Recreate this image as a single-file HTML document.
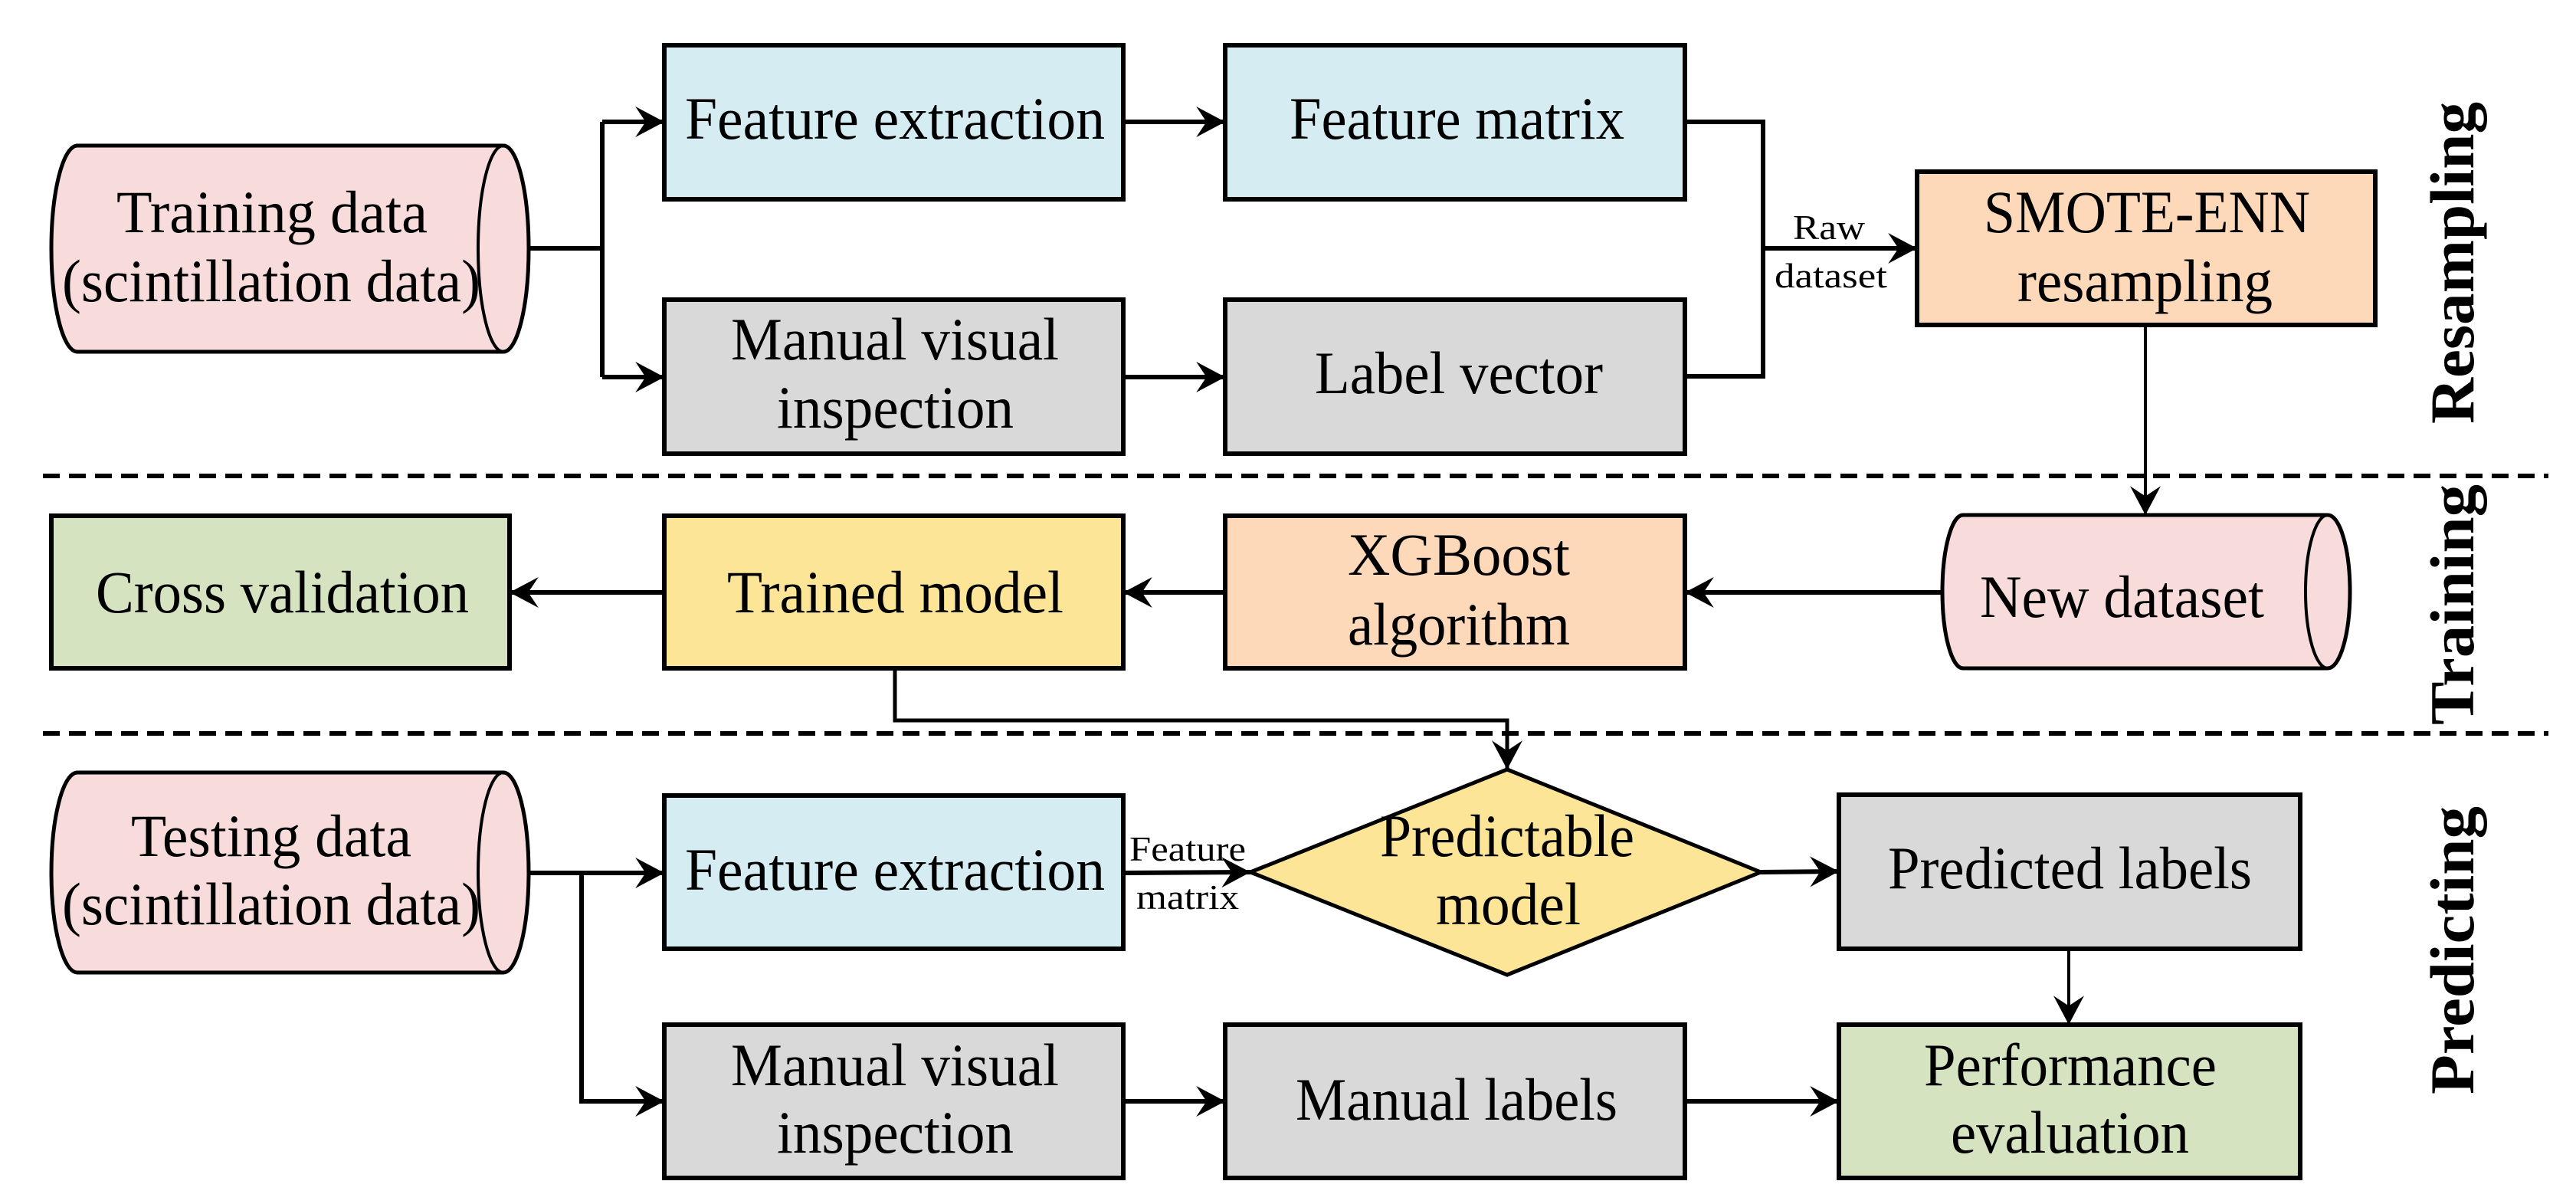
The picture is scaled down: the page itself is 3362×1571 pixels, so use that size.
<!DOCTYPE html>
<html><head><meta charset="utf-8"><style>
html,body{margin:0;padding:0;background:#fff}
svg{display:block}
text{font-family:"Liberation Serif",serif;fill:#000}
.m{font-size:78px}
.s{font-size:46px}
.b{font-size:82px;font-weight:bold}
</style></head><body>
<svg width="3362" height="1571" viewBox="0 0 3362 1571" xmlns="http://www.w3.org/2000/svg">
<defs>
<marker id="ah" markerUnits="userSpaceOnUse" markerWidth="40" markerHeight="40" viewBox="0 0 34 36" refX="34" refY="18" orient="auto">
<path d="M0,0 L34,18 L0,36 L12,18 Z" fill="#000"/>
</marker>
</defs>
<g stroke="#000" stroke-width="6" fill="none">
<rect x="867" y="59" width="599" height="201" fill="#d5edf2"/>
<rect x="1599" y="59" width="600" height="201" fill="#d5edf2"/>
<rect x="867" y="391" width="599" height="201" fill="#d9d9d9"/>
<rect x="1599" y="391" width="600" height="201" fill="#d9d9d9"/>
<rect x="2502" y="224" width="598" height="200" fill="#fdd8b9"/>
<rect x="67" y="673" width="598" height="199" fill="#d5e3c0"/>
<rect x="867" y="673" width="599" height="199" fill="#fde597"/>
<rect x="1599" y="673" width="600" height="199" fill="#fdd8b9"/>
<rect x="867" y="1038" width="599" height="200" fill="#d5edf2"/>
<rect x="867" y="1337" width="599" height="200" fill="#d9d9d9"/>
<rect x="1599" y="1337" width="600" height="200" fill="#d9d9d9"/>
<rect x="2400" y="1037" width="602" height="201" fill="#d9d9d9"/>
<rect x="2400" y="1337" width="602" height="200" fill="#d5e3c0"/>
<path d="M1632,1138 L1967,1004 L2298,1138 L1967,1272 Z" fill="#fde597" stroke-width="5"/>
<path d="M101,190 L657,190 A33,134.5 0 0 1 657,459 L101,459 A34,134.5 0 0 1 101,190 Z" fill="#f8dcdb" stroke-width="5"/>
<path d="M657,190 A33,134.5 0 0 0 657,459" stroke-width="4"/>
<path d="M101,1008 L657,1008 A33,130.5 0 0 1 657,1269 L101,1269 A34,130.5 0 0 1 101,1008 Z" fill="#f8dcdb" stroke-width="5"/>
<path d="M657,1008 A33,130.5 0 0 0 657,1269" stroke-width="4"/>
<path d="M2562,672 L3038,672 A29,100 0 0 1 3038,872 L2562,872 A27,100 0 0 1 2562,672 Z" fill="#f8dcdb" stroke-width="5"/>
<path d="M3038,672 A29,100 0 0 0 3038,872" stroke-width="4"/>
<path d="M690,324 L786,324 M786,159 L786,492"/>
<path d="M786,159 L867,159" marker-end="url(#ah)"/>
<path d="M786,492 L867,492" marker-end="url(#ah)"/>
<path d="M1466,159 L1599,159" marker-end="url(#ah)"/>
<path d="M1466,492 L1599,492" marker-end="url(#ah)"/>
<path d="M2199,159 L2301,159 L2301,491 L2199,491"/>
<path d="M2301,324 L2502,324" marker-end="url(#ah)"/>
<path d="M2800,424 L2800,672" stroke-width="4" marker-end="url(#ah)"/>
<path d="M2535,773 L2199,773" marker-end="url(#ah)"/>
<path d="M1599,773 L1466,773" marker-end="url(#ah)"/>
<path d="M867,773 L665,773" marker-end="url(#ah)"/>
<path d="M1168,872 L1168,940 L1967,940 L1967,1004" stroke-width="5" marker-end="url(#ah)"/>
<path d="M690,1139 L867,1139" marker-end="url(#ah)"/>
<path d="M759,1139 L759,1437 L867,1437" marker-end="url(#ah)"/>
<path d="M1466,1139 L1632,1138" marker-end="url(#ah)"/>
<path d="M2298,1138 L2400,1137" marker-end="url(#ah)"/>
<path d="M2700,1238 L2700,1337" stroke-width="4" marker-end="url(#ah)"/>
<path d="M1466,1437 L1599,1437" marker-end="url(#ah)"/>
<path d="M2199,1437 L2400,1437" marker-end="url(#ah)"/>
<path d="M56,621 L3326,621 M56,957 L3326,957" stroke-dasharray="22,12" stroke-width="6"/>
</g>
<g class="m">
<text x="152" y="303" textLength="406" lengthAdjust="spacingAndGlyphs">Training data</text>
<text x="81" y="393" textLength="546" lengthAdjust="spacingAndGlyphs">(scintillation data)</text>
<text x="894" y="181" textLength="548" lengthAdjust="spacingAndGlyphs">Feature extraction</text>
<text x="1683" y="181" textLength="437" lengthAdjust="spacingAndGlyphs">Feature matrix</text>
<text x="954" y="469" textLength="428" lengthAdjust="spacingAndGlyphs">Manual visual</text>
<text x="1014" y="558" textLength="309" lengthAdjust="spacingAndGlyphs">inspection</text>
<text x="1716" y="513" textLength="376" lengthAdjust="spacingAndGlyphs">Label vector</text>
<text x="2589" y="303" textLength="426" lengthAdjust="spacingAndGlyphs">SMOTE-ENN</text>
<text x="2633" y="393" textLength="333" lengthAdjust="spacingAndGlyphs">resampling</text>
<text x="125" y="799" textLength="487" lengthAdjust="spacingAndGlyphs">Cross validation</text>
<text x="949" y="799" textLength="439" lengthAdjust="spacingAndGlyphs">Trained model</text>
<text x="1759" y="750" textLength="290" lengthAdjust="spacingAndGlyphs">XGBoost</text>
<text x="1759" y="841" textLength="290" lengthAdjust="spacingAndGlyphs">algorithm</text>
<text x="2584" y="805" textLength="371" lengthAdjust="spacingAndGlyphs">New dataset</text>
<text x="171" y="1117" textLength="366" lengthAdjust="spacingAndGlyphs">Testing data</text>
<text x="81" y="1206" textLength="546" lengthAdjust="spacingAndGlyphs">(scintillation data)</text>
<text x="894" y="1161" textLength="548" lengthAdjust="spacingAndGlyphs">Feature extraction</text>
<text x="954" y="1416" textLength="428" lengthAdjust="spacingAndGlyphs">Manual visual</text>
<text x="1014" y="1504" textLength="309" lengthAdjust="spacingAndGlyphs">inspection</text>
<text x="1801" y="1117" textLength="332" lengthAdjust="spacingAndGlyphs">Predictable</text>
<text x="1874" y="1206" textLength="189" lengthAdjust="spacingAndGlyphs">model</text>
<text x="2464" y="1159" textLength="475" lengthAdjust="spacingAndGlyphs">Predicted labels</text>
<text x="1691" y="1461" textLength="420" lengthAdjust="spacingAndGlyphs">Manual labels</text>
<text x="2511" y="1416" textLength="382" lengthAdjust="spacingAndGlyphs">Performance</text>
<text x="2546" y="1504" textLength="311" lengthAdjust="spacingAndGlyphs">evaluation</text>
</g>
<g class="s">
<text x="2340" y="312" textLength="94" lengthAdjust="spacingAndGlyphs">Raw</text>
<text x="2316" y="375" textLength="147" lengthAdjust="spacingAndGlyphs">dataset</text>
<text x="1474" y="1123" textLength="152" lengthAdjust="spacingAndGlyphs">Feature</text>
<text x="1483" y="1186" textLength="134" lengthAdjust="spacingAndGlyphs">matrix</text>
</g>
<g class="b">
<text transform="translate(3228,553) rotate(-90)" textLength="420" lengthAdjust="spacingAndGlyphs">Resampling</text>
<text transform="translate(3228,946) rotate(-90)" textLength="314" lengthAdjust="spacingAndGlyphs">Training</text>
<text transform="translate(3228,1428) rotate(-90)" textLength="376" lengthAdjust="spacingAndGlyphs">Predicting</text>
</g>
</svg>
</body></html>
